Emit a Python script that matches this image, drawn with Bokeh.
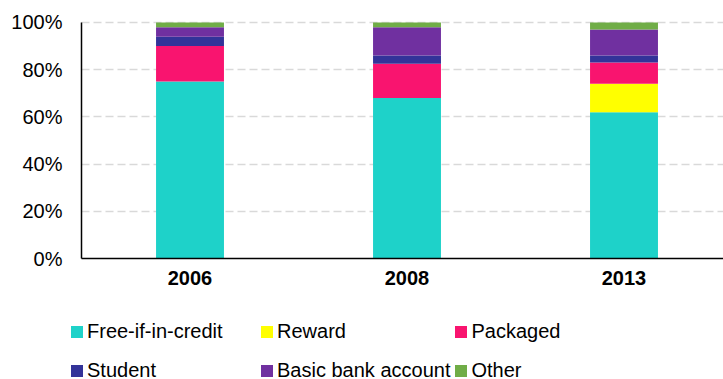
from bokeh.plotting import figure
from bokeh.models import ColumnDataSource, Legend, LegendItem, FixedTicker, PrintfTickFormatter, Range1d
from bokeh.embed import file_html
from bokeh.resources import INLINE

years = ["2006", "2008", "2013"]
free_if_in_credit = [75, 68, 62]
reward = [0, 0, 12]
packaged = [15, 14.5, 9]
student = [4, 3.5, 3]
basic_bank_account = [4, 12, 11]
other = [2, 2, 3]

series = ["Free-if-in-credit", "Reward", "Packaged", "Student", "Basic bank account", "Other"]
colors = ["#1ED2C9", "#FFFF00", "#F9146F", "#333399", "#7030A0", "#70AD47"]

xs = list(range(len(years)))
data = dict(x=xs)
for name, vals in zip(series, [free_if_in_credit, reward, packaged, student, basic_bank_account, other]):
    data[name] = vals
source = ColumnDataSource(data)

X0, X1 = -0.8733, 2.4585
p = figure(width=723, height=379, output_backend="svg", toolbar_location=None,
           x_range=Range1d(X0, X1), y_range=Range1d(-51.27, 109.32),
           min_border_left=0, min_border_right=0, min_border_top=0, min_border_bottom=0)
p.outline_line_color = None
p.background_fill_color = "white"

renderers = p.vbar_stack(series, x="x", width=0.313, source=source, color=colors, line_color=None)

# axes placed at data coordinates inside the frame
p.xaxis.fixed_location = 0
p.xaxis.bounds = (-0.5, X1)
p.xaxis.ticker = FixedTicker(ticks=xs)
p.xaxis.major_label_overrides = {i: y for i, y in enumerate(years)}
p.xaxis.major_label_text_font = "Liberation Sans"
p.xaxis.major_label_text_font_style = "bold"
p.xaxis.major_label_text_font_size = "20px"
p.xaxis.major_label_text_color = "black"
p.xaxis.major_tick_line_color = None
p.xaxis.minor_tick_line_color = None
p.xaxis.major_tick_out = 0
p.xaxis.major_label_standoff = 12
p.xaxis.axis_line_color = "black"
p.xaxis.axis_line_width = 1.5

p.yaxis.fixed_location = -0.5
p.yaxis.bounds = (0, 100)
p.yaxis.ticker = FixedTicker(ticks=[0, 20, 40, 60, 80, 100])
p.yaxis.formatter = PrintfTickFormatter(format="%d%%")
p.yaxis.major_label_text_font = "Liberation Sans"
p.yaxis.major_label_text_font_size = "20px"
p.yaxis.major_label_text_color = "black"
p.yaxis.major_tick_line_color = None
p.yaxis.minor_tick_line_color = None
p.yaxis.major_tick_out = 0
p.yaxis.major_label_standoff = 19
p.yaxis.axis_line_color = "black"
p.yaxis.axis_line_width = 1.5

p.xgrid.grid_line_color = None
p.ygrid.ticker = FixedTicker(ticks=[20, 40, 60, 80, 100])
p.ygrid.cross_bounds = (-0.5, X1)
p.ygrid.grid_line_color = "#D9D9D9"
p.ygrid.grid_line_width = 1.5
p.ygrid.grid_line_dash = "8 4"

items = [LegendItem(label=s, renderers=[r]) for s, r in zip(series, renderers)]
lg = Legend(items=items, ncols=3, orientation="horizontal", location=(69, -9),
            padding=0, margin=0, spacing=3, glyph_width=15, glyph_height=15,
            label_standoff=3, label_width=169, label_height=36,
            label_text_font="Liberation Sans", label_text_font_size="20px",
            label_text_color="black", border_line_color=None, background_fill_alpha=0)
p.add_layout(lg, "center")

open("out.html", "w").write(file_html(p, INLINE))
